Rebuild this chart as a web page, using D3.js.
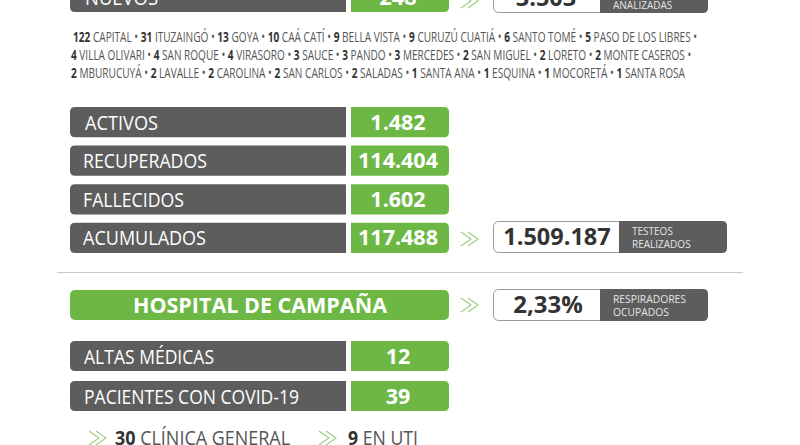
<!DOCTYPE html>
<html>
<head>
<meta charset="utf-8">
<script src="https://cdn.jsdelivr.net/npm/d3@7"></script>
<style>
  html, body { margin: 0; padding: 0; background: #fff; }
  svg { display: block; }
  text { font-family: "Open Sans", "Noto Sans", sans-serif; }
</style>
</head>
<body>
<div id="chart"></div>
<script>
const GRAY = '#5d5d5d';
const GREEN = '#6db845';
const INK = '#333333';

// top strip, cut by the picture edge
const newLabel = ['NUEVOS'];
const newValue = ['248'];
const testsTop = ['3.503'];
const testsTopLabel = ['ANALIZADAS'];

// localities, one array per line
const line1 = [['122', 'CAPITAL'], ['31', 'ITUZAINGÓ'], ['13', 'GOYA'], ['10', 'CAÁ CATÍ'], ['9', 'BELLA VISTA'], ['9', 'CURUZÚ CUATIÁ'], ['6', 'SANTO TOMÉ'], ['5', 'PASO DE LOS LIBRES']];
const line2 = [['4', 'VILLA OLIVARI'], ['4', 'SAN ROQUE'], ['4', 'VIRASORO'], ['3', 'SAUCE'], ['3', 'PANDO'], ['3', 'MERCEDES'], ['2', 'SAN MIGUEL'], ['2', 'LORETO'], ['2', 'MONTE CASEROS']];
const line3 = [['2', 'MBURUCUYÁ'], ['2', 'LAVALLE'], ['2', 'CAROLINA'], ['2', 'SAN CARLOS'], ['2', 'SALADAS'], ['1', 'SANTA ANA'], ['1', 'ESQUINA'], ['1', 'MOCORETÁ'], ['1', 'SANTA ROSA']];

const statLabels = ['ACTIVOS', 'RECUPERADOS', 'FALLECIDOS', 'ACUMULADOS'];
const statValues = ['1.482', '114.404', '1.602', '117.488'];

const hospitalTitle = 'HOSPITAL DE CAMPAÑA';
const hospitalLabels = ['ALTAS MÉDICAS', 'PACIENTES CON COVID-19'];
const hospitalValues = ['12', '39'];

const width = 800;
const height = 445;

const svg = d3.select('#chart').append('svg')
  .attr('width', width)
  .attr('height', height)
  .attr('viewBox', [0, 0, width, height]);

// rounded on one side only, the bars are split gray / green
function sideRect(x, y, w, h, r, side) {
  const p = d3.path();
  if (side === 'left') {
    p.moveTo(x + w, y);
    p.lineTo(x + r, y);
    p.quadraticCurveTo(x, y, x, y + r);
    p.lineTo(x, y + h - r);
    p.quadraticCurveTo(x, y + h, x + r, y + h);
    p.lineTo(x + w, y + h);
  } else {
    p.moveTo(x, y);
    p.lineTo(x + w - r, y);
    p.quadraticCurveTo(x + w, y, x + w, y + r);
    p.lineTo(x + w, y + h - r);
    p.quadraticCurveTo(x + w, y + h, x + w - r, y + h);
    p.lineTo(x, y + h);
  }
  p.closePath();
  return p.toString();
}

function chevrons(x, y) {
  const g = svg.append('g').attr('fill', 'none').attr('stroke', '#9ccc80').attr('stroke-width', 1.1);
  [0, 7].forEach(dx => {
    g.append('path').attr('d', `M${x + dx},${y - 7}L${x + dx + 10},${y}L${x + dx},${y + 7}`);
  });
}

// text with a bold number and a plain name, squeezed to a target width
function squeezedLine(x, y, w, fontSize, items) {
  const g = svg.append('g');
  const t = g.append('text').attr('font-size', fontSize).attr('fill', '#555');
  items.forEach(d => {
    t.append('tspan').attr('font-weight', 700).attr('fill', INK).text(d[0] + ' ');
    t.append('tspan').text(d[1]);
  });
  const k = w / t.node().getComputedTextLength();
  g.attr('transform', `translate(${x},${y}) scale(${k},1)`);
}

function drawRows(labels, values, y, labelX, labelW) {
  const rows = svg.append('g').selectAll('g')
    .data(labels.map((l, i) => ({ label: l, value: values[i], lx: labelX[i], lw: labelW[i] })))
    .join('g');

  rows.append('path')
    .attr('d', d => sideRect(70, y(d.label), 276, y.bandwidth(), 5, 'left'))
    .attr('fill', GRAY);
  rows.append('path')
    .attr('d', d => sideRect(351, y(d.label), 98, y.bandwidth(), 5, 'right'))
    .attr('fill', GREEN);
  rows.append('text')
    .attr('x', d => d.lx)
    .attr('y', d => y(d.label) + y.bandwidth() / 2 + 7.5)
    .attr('font-size', 20)
    .attr('fill', '#fff')
    .attr('textLength', d => d.lw)
    .attr('lengthAdjust', 'spacingAndGlyphs')
    .text(d => d.label);
  rows.append('text')
    .attr('x', 398)
    .attr('y', d => y(d.label) + y.bandwidth() / 2 + 7.5)
    .attr('text-anchor', 'middle')
    .attr('font-size', 21.5)
    .attr('font-weight', 700)
    .attr('fill', '#fff')
    .text(d => d.value);
}

function infoBox(x, y, w, split, h, value, valueX, caption, fs, capFs) {
  svg.append('rect').attr('x', x + 0.5).attr('y', y + 0.5).attr('width', split + 5).attr('height', h)
    .attr('rx', 5).attr('fill', '#fff').attr('stroke', '#9a9a9a');
  svg.append('path').attr('d', sideRect(x + split, y, w - split, h + 1, 5, 'right')).attr('fill', GRAY);
  svg.append('text').attr('x', valueX).attr('y', y + h / 2 + 8.5)
    .attr('text-anchor', 'middle').attr('font-size', fs).attr('font-weight', 700).attr('fill', INK)
    .text(value);
  caption.forEach((c, i) => {
    svg.append('text').attr('x', x + split + 13).attr('y', y + 14 + i * 12.5)
      .attr('font-size', capFs).attr('fill', '#e4e4e4').text(c);
  });
}

// --- top strip
const yTop = d3.scaleBand().domain(newLabel).range([-18, 12]);
drawRows(newLabel, newValue, yTop, [85], [73]);
chevrons(461, 1);
infoBox(493, -18, 215, 107, 30, testsTop[0], 546, ['', testsTopLabel[0]], 23.5, 10);

// --- localities
const lineY = d3.scaleBand().domain([0, 1, 2]).range([29, 83]);
const lineStart = [73, 71, 71];
const lineWidth = [625, 621, 615];
[line1, line2, line3].forEach((items, i) => {
  const withBullets = items.map((d, j) => [d[0], d[1] + (j < items.length - 1 || i < 2 ? ' • ' : '')]);
  squeezedLine(lineStart[i], lineY(i) + 13, lineWidth[i], 14, withBullets);
});

// --- totals
const yStats = d3.scaleBand().domain(statLabels).range([107, 253]).paddingInner(0.22);
drawRows(statLabels, statValues, yStats, [85, 83, 83, 83], [73, 124, 101, 123]);
chevrons(461, 239);
infoBox(493, 221, 234, 126, 31, '1.509.187', 557, ['TESTEOS', 'REALIZADOS'], 23.5, 10);

// divider
svg.append('line').attr('x1', 57).attr('x2', 743).attr('y1', 272.5).attr('y2', 272.5)
  .attr('stroke', '#c9c9c9').attr('stroke-width', 1.2);

// --- hospital
svg.append('rect').attr('x', 70).attr('y', 290).attr('width', 379).attr('height', 30).attr('rx', 5).attr('fill', GREEN);
svg.append('text').attr('x', 260).attr('y', 313).attr('text-anchor', 'middle')
  .attr('font-size', 21.5).attr('font-weight', 700).attr('fill', '#fff').text(hospitalTitle);
chevrons(461, 305);
infoBox(493, 289, 215, 107, 31, '2,33%', 548, ['RESPIRADORES', 'OCUPADOS'], 24, 10.3);

const yHosp = d3.scaleBand().domain(hospitalLabels).range([341, 411]).paddingInner(0.25);
drawRows(hospitalLabels, hospitalValues, yHosp, [84, 84], [130, 215]);

// --- bottom line, cut by the edge
chevrons(89, 438);
chevrons(319, 438);
squeezedLine(115, 445, 175, 20, [['30', 'CLÍNICA GENERAL']]);
squeezedLine(348, 445, 70, 20, [['9', 'EN UTI']]);
</script>
</body>
</html>
